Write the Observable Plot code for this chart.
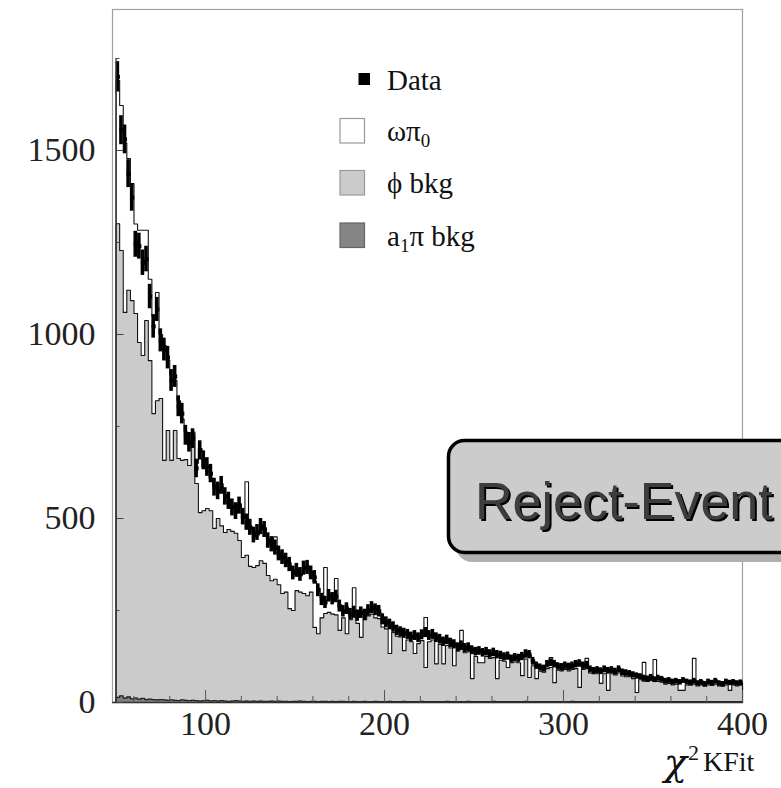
<!DOCTYPE html>
<html>
<head>
<meta charset="utf-8">
<script src="https://cdn.jsdelivr.net/npm/d3@7"></script>
<script src="https://cdn.jsdelivr.net/npm/@observablehq/plot@0.6"></script>
<style>
  html, body { margin: 0; padding: 0; background: #fff; }
  #wrap { position: relative; width: 781px; height: 788px; overflow: hidden; }
  #overlay { position: absolute; left: 0; top: 0; pointer-events: none; }
</style>
</head>
<body>
<div id="wrap"></div>
<script>
// ---- data (bins of width 2 from 50 to 400) ----
const binStart = 50;
const binWidth = 2;
const dataCounts = [1700,1555,1530,1437,1372,1245,1240,1195,1205,1103,
 1022,1068,984,959,937,875,886,805,785,726,
 707,717,636,685,658,640,622,585,575,590,
 560,548,530,520,535,505,490,476,455,462,
 478,470,440,430,421,405,395,386,375,352,
 359,348,365,367,352,340,305,280,272,290,
 282,288,262,248,255,240,246,236,244,238,
 250,258,252,248,226,218,212,205,196,192,
 188,185,178,182,176,184,190,182,185,176,
 172,165,170,162,158,150,155,148,150,142,
 138,140,135,138,132,136,130,128,124,126,
 118,122,120,125,132,130,112,100,95,92,
 104,108,104,98,96,100,97,100,104,106,
 100,102,90,86,88,85,90,86,88,84,
 90,82,80,78,75,72,70,66,64,68,
 62,66,63,58,60,56,58,55,60,56,
 54,58,52,55,50,56,53,58,52,50,
 56,53,55,52,54];
// stacked MC total (omega pi0 + phi bkg + a1 pi bkg)
const mcTotal = [1690,1622,1520,1478,1410,1300,1283,1283,1283,1150,
 1050,1114,1000,970,930,890,875,820,770,735,
 700,735,650,690,640,630,610,590,570,585,
 565,540,535,515,540,500,600,470,460,455,
 470,475,445,425,450,400,390,380,370,360,
 355,345,360,360,345,330,310,285,367,290,
 280,337,260,250,250,240,312,235,240,240,
 248,255,250,245,225,220,210,205,195,190,
 190,185,180,180,175,180,231,180,185,175,
 170,165,168,160,158,150,196,148,148,142,
 138,138,135,136,132,134,130,128,124,125,
 118,120,120,124,130,128,110,100,95,92,
 102,122,104,98,95,100,96,100,102,105,
 100,120,90,86,88,85,88,85,88,84,
 88,82,80,78,74,72,70,109,64,66,
 117,64,62,58,60,56,57,55,58,56,
 54,120,52,54,50,55,53,56,52,50,
 55,52,54,52,53];
// phi bkg (stacked with a1 pi bkg)
const phiBkg = [1301,1228,1060,1120,1092,1057,978,943,1038,929,
 785,820,826,658,739,658,739,663,658,660,
 644,731,595,516,521,527,521,473,500,480,
 462,470,465,460,440,394,400,370,367,372,
 385,378,345,331,335,320,296,300,255,250,
 304,300,296,290,300,204,187,230,242,245,
 240,238,196,230,187,225,232,215,177,225,
 235,240,230,228,205,200,133,190,180,178,
 141,170,165,133,160,168,95,165,170,105,
 158,105,155,148,100,140,145,135,138,65,
 125,108,108,125,120,122,65,115,112,95,
 108,110,108,73,118,68,100,65,85,82,
 92,95,54,88,86,90,86,90,92,41,
 90,92,80,78,78,52,78,33,78,75,
 80,72,70,70,65,27,62,58,57,60,
 58,57,55,50,52,48,50,33,33,48,
 47,50,45,48,44,48,46,50,45,44,
 48,33,48,45,47];
// a1 pi bkg
const a1Bkg = [14,18,12,15,10,12,9,11,8,9,
 8,7,8,7,6,7,6,5,7,6,
 5,6,5,4,5,6,4,5,4,5,
 4,3,4,5,4,3,4,3,4,3,
 4,3,3,4,3,4,3,3,2,3,
 3,4,3,2,3,3,2,3,3,2,
 3,2,3,3,2,2,3,2,2,3,
 2,2,3,2,2,2,3,2,2,2,
 3,2,2,2,2,3,2,2,2,2,
 2,2,3,2,2,2,2,2,3,2,
 2,2,2,2,2,3,2,2,2,2,
 2,2,2,2,3,2,2,2,2,2,
 2,2,2,2,2,2,2,3,2,2,
 2,2,2,2,2,2,2,2,2,2,
 2,2,2,2,2,2,2,2,2,2,
 2,2,2,2,2,2,2,2,2,2,
 2,2,2,2,2,2,2,2,2,2,
 2,2,2,2,2];

const xLabels = [100, 200, 300, 400];
const xMinor = [60,80,120,140,160,180,220,240,260,280,320,340,360,380];
const yLabels = [0, 500, 1000, 1500];
const yMinor = [250, 750, 1250, 1750];

const legendItems = [
  {kind: "data", label: "Data"},
  {kind: "omega", label: "ωπ", sub: "0"},
  {kind: "phi", label: "ϕ bkg"},
  {kind: "a1", label: "a", sub: "1", rest: "π bkg"}
];

// ---- build tables ----
const bins = dataCounts.map((v, i) => ({
  x0: binStart + i * binWidth,
  x1: binStart + (i + 1) * binWidth,
  data: v, total: mcTotal[i], phi: phiBkg[i], a1: a1Bkg[i]
}));
function steps(key) {
  const pts = [{x: bins[0].x0, y: 0}];
  for (const b of bins) pts.push({x: b.x0, y: b[key]});
  const last = bins[bins.length - 1];
  pts.push({x: last.x1, y: last[key]});
  pts.push({x: last.x1, y: 0});
  return pts;
}

const W = 781, H = 788;
const mL = 112, mR = 39, mT = 9, mB = 86;
const frameW = W - mL - mR, frameH = H - mT - mB;
const serif = "'Liberation Serif', 'Times New Roman', 'DejaVu Serif', serif";

const chart = Plot.plot({
  width: W, height: H,
  marginLeft: mL, marginRight: mR, marginTop: mT, marginBottom: mB,
  style: {fontFamily: serif, background: "white", color: "#222"},
  x: {domain: [48, 400]},
  y: {domain: [0, 1883]},
  marks: [
    Plot.frame({stroke: "#a0a0a0", strokeWidth: 1.2}),
    Plot.areaY(steps("total"), {x: "x", y: "y", curve: "step-after", fill: "white"}),
    Plot.lineY(steps("total"), {x: "x", y: "y", curve: "step-after", stroke: "#111", strokeWidth: 1.1}),
    Plot.areaY(steps("phi"), {x: "x", y: "y", curve: "step-after", fill: "#cbcbcb"}),
    Plot.lineY(steps("phi"), {x: "x", y: "y", curve: "step-after", stroke: "#111", strokeWidth: 1.1}),
    Plot.areaY(steps("a1"), {x: "x", y: "y", curve: "step-after", fill: "#808080"}),
    Plot.lineY(steps("a1"), {x: "x", y: "y", curve: "step-after", stroke: "#222", strokeWidth: 1.3}),
    Plot.rect(bins, {x1: "x0", x2: "x1", y1: d => d.data - Math.sqrt(d.data), y2: d => d.data + Math.sqrt(d.data), fill: "black"}),
    Plot.dot(bins, {x: d => (d.x0 + d.x1) / 2, y: "data", symbol: "square", r: 2.3, fill: "black"}),
    Plot.ruleY([0], {stroke: "#333", strokeWidth: 1.3}),
    Plot.ruleX([binStart], {y1: 0, y2: 1750, stroke: "#333", strokeWidth: 1.3}),
    Plot.tickY(yLabels, {y: d => d, insetLeft: 3.5, insetRight: frameW - 11.5, stroke: "#444"}),
    Plot.tickY(yMinor, {y: d => d, insetLeft: 3.5, insetRight: frameW - 7.5, stroke: "#444"}),
    Plot.tickX(xLabels, {x: d => d, insetTop: frameH - 12, stroke: "#555"}),
    Plot.tickX(xMinor, {x: d => d, insetTop: frameH - 6, stroke: "#555"}),
    Plot.axisY(yLabels, {tickSize: 0, tickPadding: 17, fontSize: 34, fontFamily: serif, fill: "#222", tickFormat: d => String(d)}),
    Plot.axisX(xLabels, {tickSize: 0, tickPadding: 8, fontSize: 34, fontFamily: serif, fill: "#222", tickFormat: d => String(d)})
  ]
});
document.getElementById("wrap").appendChild(chart);

// ---- overlay: legend, label box, axis title ----
const ns = "http://www.w3.org/2000/svg";
const ov = document.createElementNS(ns, "svg");
ov.setAttribute("id", "overlay");
ov.setAttribute("width", W); ov.setAttribute("height", H);
function el(tag, attrs, text) {
  const e = document.createElementNS(ns, tag);
  for (const k in attrs) e.setAttribute(k, attrs[k]);
  if (text != null) e.textContent = text;
  return e;
}
function sub(parent, str, size, shift) {
  const t = el("tspan", {"font-size": size, dy: shift}, str);
  parent.appendChild(t);
  return t;
}
// filters
const defs = el("defs", {});
const flt = el("filter", {id: "txtShadow", x: "-5%", y: "-5%", width: "115%", height: "125%"});
flt.appendChild(el("feDropShadow", {dx: 2, dy: 2, stdDeviation: 0, "flood-color": "#000", "flood-opacity": 1}));
defs.appendChild(flt);
ov.appendChild(defs);
// legend
const rowY = [79, 130.5, 182.5, 235];
legendItems.forEach((it, i) => {
  const cy = rowY[i];
  if (it.kind === "data") {
    ov.appendChild(el("rect", {x: 358.5, y: cy - 6, width: 11.5, height: 12, fill: "black"}));
  } else {
    const fill = it.kind === "omega" ? "white" : it.kind === "phi" ? "#cbcbcb" : "#858585";
    const stroke = it.kind === "a1" ? "#666" : "#999";
    ov.appendChild(el("rect", {x: 340, y: cy - 12, width: 24.5, height: 24.5, fill, stroke, "stroke-width": 1.2}));
  }
  const t = el("text", {x: 387, y: cy + 10.5, "font-family": serif, "font-size": 29, fill: "#111"});
  t.appendChild(el("tspan", {}, it.label));
  if (it.sub) {
    sub(t, it.sub, 19, 6);
    if (it.rest) sub(t, it.rest, 29, -6);
  }
  ov.appendChild(t);
});
// Reject-Event box
ov.appendChild(el("rect", {x: 456, y: 448, width: 420, height: 114, rx: 16, ry: 16, fill: "#b0b0b0"}));
ov.appendChild(el("rect", {x: 448.5, y: 440.5, width: 420, height: 112, rx: 16, ry: 16, fill: "#cccccc", stroke: "#000", "stroke-width": 3.5}));
const sans = "'Liberation Sans', Arial, Helvetica, sans-serif";
ov.appendChild(el("text", {x: 475, y: 518.5, "font-family": sans, "font-size": 52, fill: "#3c3c3c", filter: "url(#txtShadow)"}, "Reject-Event"));
// axis title chi^2 KFit
const title = el("text", {x: 664, y: 775, "font-family": serif, "font-size": 28, fill: "#111"});
title.appendChild(el("tspan", {"font-family": "'DejaVu Serif', serif", "font-style": "italic", "font-size": 38}, "χ"));
title.appendChild(el("tspan", {x: 688, y: 760, "font-size": 22}, "2"));
title.appendChild(el("tspan", {x: 703, y: 771, "font-size": 28}, "KFit"));
ov.appendChild(title);
document.getElementById("wrap").appendChild(ov);
</script>
</body>
</html>
